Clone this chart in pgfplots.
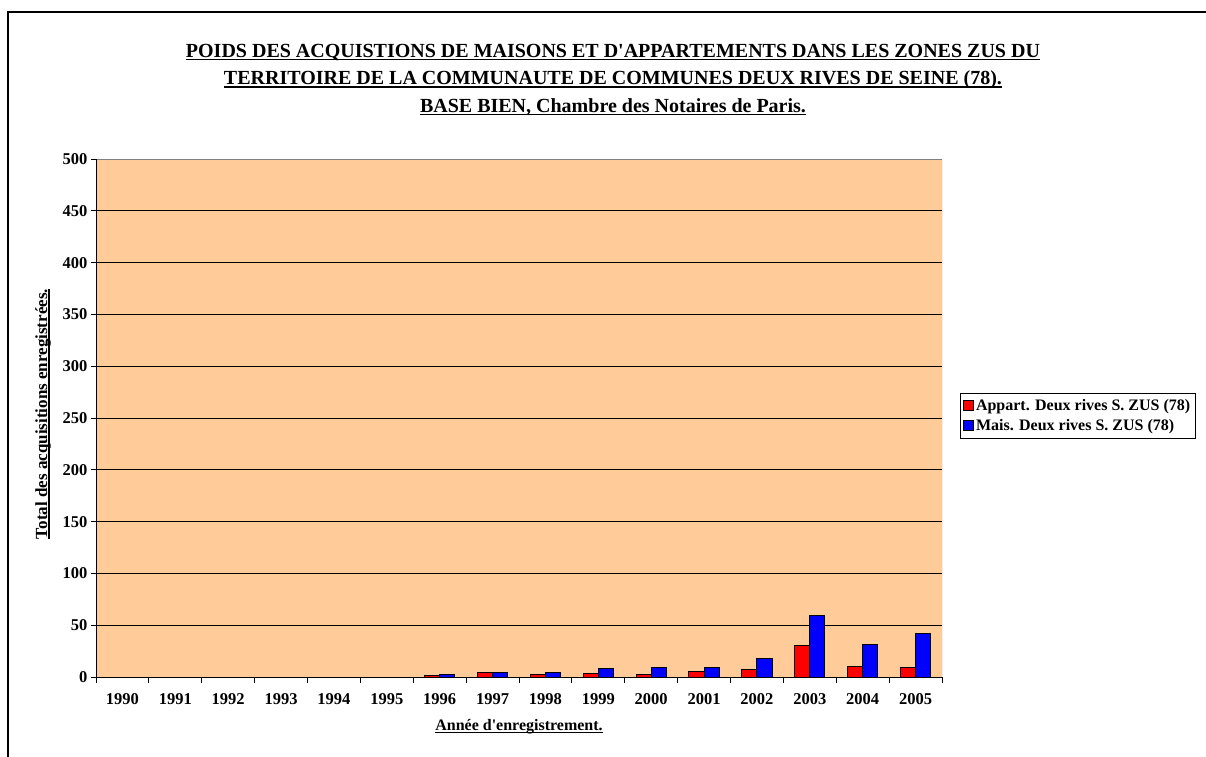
\documentclass[border=0pt]{standalone}
\usepackage{fontspec}
\setmainfont{Liberation Serif}
\usepackage{pgfplots}
\pgfplotsset{compat=1.18}

\definecolor{peach}{HTML}{FFCC99}
\definecolor{xlred}{HTML}{FF0000}
\definecolor{xlblue}{HTML}{0000FF}
\definecolor{xlgray}{HTML}{808080}

\newcommand\ttl{\fontsize{20}{24}\selectfont\bfseries}
% underline at a fixed depth, whatever the letters
\newcommand\ul[1]{\begingroup\setbox0\hbox{#1}\leavevmode\rlap{\rule[-0.15em]{\wd0}{0.075em}}\box0\endgroup}

\begin{document}
\begin{tikzpicture}
\path[use as bounding box] (0pt,0pt) rectangle (1206pt,-756pt);
\draw[line width=2pt] (8pt,-757pt) -- (8pt,-12pt) -- (1207pt,-12pt);

% title, one node per line
\node[anchor=base] at (613pt,-57pt) {\ttl\ul{POIDS DES ACQUISTIONS DE MAISONS ET D\textquotesingle APPARTEMENTS DANS LES ZONES ZUS DU}};
\node[anchor=base] at (613pt,-84.5pt) {\ttl\ul{TERRITOIRE DE LA COMMUNAUTE DE COMMUNES DEUX RIVES DE SEINE (78).}};
\node[anchor=base] at (613pt,-112pt) {\ttl\ul{BASE BIEN, Chambre des Notaires de Paris.}};

\begin{axis}[
    at={(96pt,-677pt)}, anchor=south west,
    width=846pt, height=518pt, scale only axis,
    ybar=0pt, bar width=15.1pt,
    xmin=-0.5, xmax=15.5,
    ymin=0, ymax=500,
    xtick={0,...,15},
    xticklabels={1990,1991,1992,1993,1994,1995,1996,1997,1998,1999,2000,2001,2002,2003,2004,2005},
    major x tick style={draw=none},
    minor xtick={-0.5,0.5,...,15.5},
    minor tick length=6pt,
    ytick={0,50,...,500},
    major tick length=5pt,
    xtick pos=bottom, ytick pos=left,
    tick align=outside,
    tick style={black, line width=1pt},
    ymajorgrids, major grid style={black, line width=1pt},
    axis line style={draw=none},
    axis background/.style={fill=peach},
    /pgf/number format/assume math mode=true,
    ticklabel style={font=\fontsize{16.5}{18}\selectfont\bfseries},
    xticklabel style={yshift=-8pt},
    legend style={at={(1.0213,0.5483)}, anchor=north west, draw=black, fill=white,
        font=\fontsize{16}{18}\selectfont\bfseries, inner xsep=3pt, inner ysep=4pt,
        row sep=4pt, cells={anchor=west}},
    legend image code/.code={\draw[#1, line width=0.8pt] (0pt,-4.5pt) rectangle (10pt,5.5pt);},
]
\addplot[fill=xlred, draw=black, line width=1pt] coordinates {
    (0,0) (1,0) (2,0) (3,0) (4,0) (5,0) (6,1) (7,4)
    (8,2) (9,3) (10,2) (11,5) (12,7) (13,30) (14,10) (15,9)};
\addplot[fill=xlblue, draw=black, line width=1pt] coordinates {
    (0,0) (1,0) (2,0) (3,0) (4,0) (5,0) (6,2) (7,4)
    (8,4) (9,8) (10,9) (11,9) (12,18) (13,59) (14,31) (15,42)};
\legend{Appart. Deux rives S. ZUS (78), Mais. Deux rives S. ZUS (78)}
\draw[xlgray, line width=1pt] (rel axis cs:0,1) -- (rel axis cs:1,1) -- (rel axis cs:1,0);
\draw[black, line width=1pt] (rel axis cs:0,1) -- (rel axis cs:0,0) -- (rel axis cs:1,0);
\end{axis}

\node[rotate=90] at (43pt,-414pt) {\fontsize{17}{19}\selectfont\bfseries\ul{Total des acquisitions enregistrées.}};
\node at (519pt,-727pt) {\fontsize{16}{18}\selectfont\bfseries\ul{Année d\textquotesingle enregistrement.}};
\end{tikzpicture}
\end{document}
